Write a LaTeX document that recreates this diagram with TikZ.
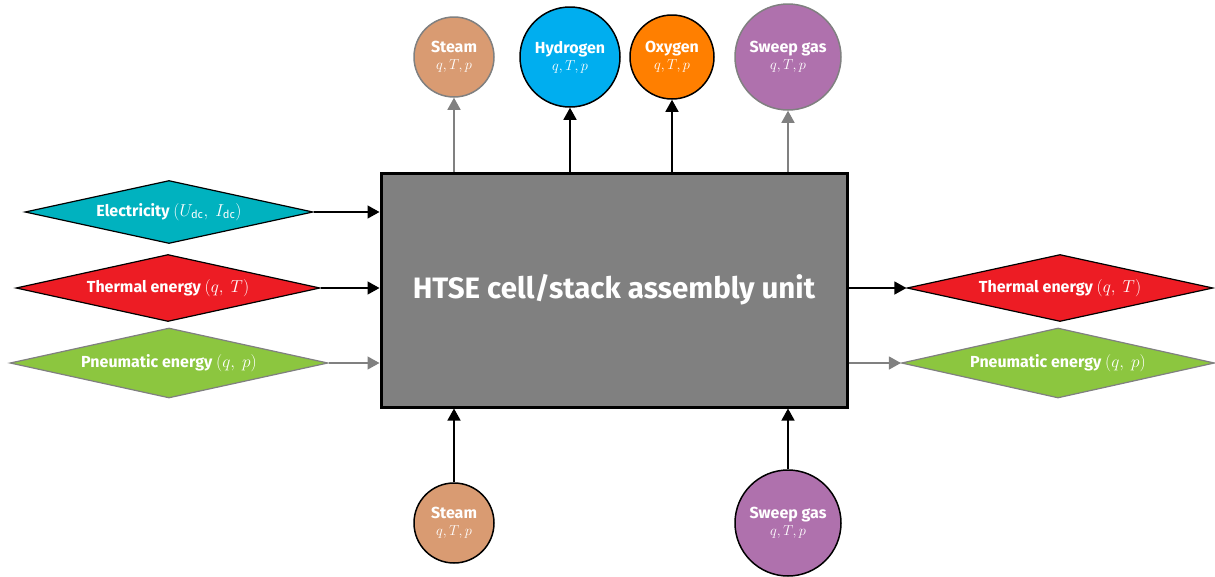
\documentclass[tikz,border=0pt]{standalone}
\usepackage{fontspec}
\setsansfont{Fira Sans}
\usetikzlibrary{shapes.geometric,arrows.meta}
\definecolor{steamc}{HTML}{D99B72}
\definecolor{hydc}{HTML}{00AEEF}
\definecolor{oxyc}{HTML}{FF7F00}
\definecolor{sweepc}{HTML}{AF71AD}
\definecolor{elecc}{HTML}{00B2BF}
\definecolor{thermc}{HTML}{ED1C24}
\definecolor{pneuc}{HTML}{8CC63F}
\definecolor{grayc}{HTML}{808080}
\tikzset{
  lbl/.style={font=\sffamily\bfseries\fontsize{16}{18}\selectfont, text=white, align=center},
  gas/.style={circle, lbl, inner sep=0pt, line width=1.5pt},
  energy/.style={diamond, lbl, inner sep=0pt, line width=1.2pt},
  flow/.style={line width=1.4pt, -{Triangle[length=12pt,width=13pt]}},
  gflow/.style={flow, draw=grayc},
}
\newcommand{\qtp}{{\mdseries\fontsize{15}{16}\selectfont$q, T, p$}}
\begin{document}
\begin{tikzpicture}[x=1pt,y=-1pt]
\useasboundingbox (0,0) rectangle (1215,576);
% main box
\node[draw=black, line width=3pt, fill=grayc, minimum width=466pt, minimum height=234pt,
  font=\sffamily\bfseries\fontsize{29.5}{32}\selectfont, text=white] (unit) at (614,290) {HTSE cell/stack assembly unit};
% top gases
\node[gas, fill=steamc, draw=grayc, minimum size=80pt] (steamout) at (454,57) {Steam\\[-1pt]\qtp};
\node[gas, fill=hydc, draw=black, minimum size=100pt] (hyd) at (570,57) {Hydrogen\\[-1pt]\qtp};
\node[gas, fill=oxyc, draw=black, minimum size=84pt] (oxy) at (672,57) {Oxygen\\[-1pt]\qtp};
\node[gas, fill=sweepc, draw=grayc, minimum size=106pt] (sweepout) at (788,57) {Sweep gas\\[-1pt]\qtp};
% bottom gases
\node[gas, fill=steamc, draw=black, minimum size=80pt] (steamin) at (454,523) {Steam\\[-1pt]\qtp};
\node[gas, fill=sweepc, draw=black, minimum size=106pt] (sweepin) at (788,523) {Sweep gas\\[-1pt]\qtp};
% left energies
\node[energy, fill=elecc, draw=black, minimum width=288pt, minimum height=63pt, shape aspect=4.6] (elec) at (169,212)
  {Electricity {\mdseries$(U_{\mathsf{dc}},\ I_{\mathsf{dc}})$}};
\node[energy, fill=thermc, draw=black, minimum width=304pt, minimum height=67pt, shape aspect=4.6] (thermin) at (168,288)
  {Thermal energy {\mdseries$(q,\ T)$}};
\node[energy, fill=pneuc, draw=grayc, minimum width=318pt, minimum height=70pt, shape aspect=4.6] (pneuin) at (169,363)
  {Pneumatic energy {\mdseries$(q,\ p)$}};
% right energies
\node[energy, fill=thermc, draw=black, minimum width=306pt, minimum height=67pt, shape aspect=4.6] (thermout) at (1060,288)
  {Thermal energy {\mdseries$(q,\ T)$}};
\node[energy, fill=pneuc, draw=grayc, minimum width=313pt, minimum height=70pt, shape aspect=4.6] (pneuout) at (1058,363)
  {Pneumatic energy {\mdseries$(q,\ p)$}};
% connectors top
\draw[gflow] (unit.north -| steamout.south) -- (steamout.south);
\draw[flow] (unit.north -| hyd.south) -- (hyd.south);
\draw[flow] (unit.north -| oxy.south) -- (oxy.south);
\draw[gflow] (unit.north -| sweepout.south) -- (sweepout.south);
% bottom
\draw[flow] (steamin.north) -- (unit.south -| steamin.north);
\draw[flow] (sweepin.north) -- (unit.south -| sweepin.north);
% left
\draw[flow] (elec.east) -- (unit.west |- elec.east);
\draw[flow] (thermin.east) -- (unit.west |- thermin.east);
\draw[gflow] (pneuin.east) -- (unit.west |- pneuin.east);
% right
\draw[flow] (unit.east |- thermout.west) -- (thermout.west);
\draw[gflow] (unit.east |- pneuout.west) -- (pneuout.west);
\end{tikzpicture}
\end{document}
